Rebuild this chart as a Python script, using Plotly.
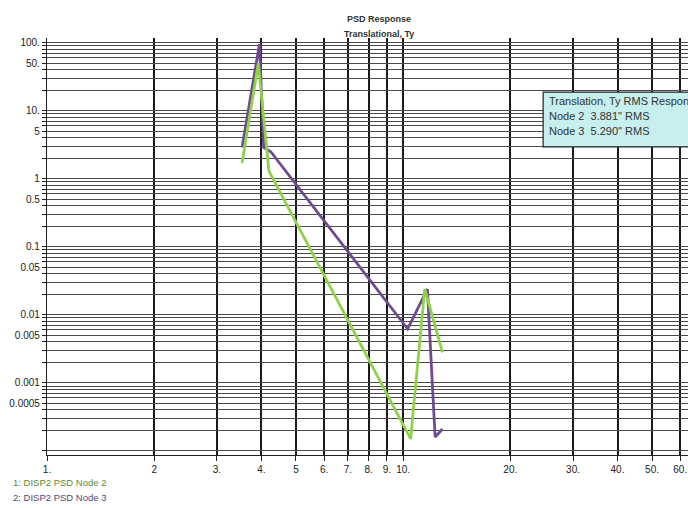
import plotly.graph_objects as go

# ---- data ----
node2_freq = [3.53, 3.92, 4.20, 10.5, 11.5, 12.9]
node2_psd = [1.7, 50, 1.3, 0.00015, 0.024, 0.0028]

node3_freq = [3.53, 3.95, 4.06, 4.25, 10.3, 11.7, 12.3, 12.9]
node3_psd = [2.9, 95, 2.9, 2.5, 0.0062, 0.024, 0.00016, 0.00021]

x_tickvals = [1, 2, 3, 4, 5, 6, 7, 8, 9, 10, 20, 30, 40, 50, 60, 70, 80, 90]
x_ticktext = ["1.", "2", "3.", "4.", "5", "6.", "7.", "8.", "9.", "10.",
              "20.", "30.", "40.", "50.", "60.", "", "", ""]

y_labels = {100: "100.", 50: "50.", 10: "10.", 5: "5", 1: "1", 0.5: "0.5",
            0.1: "0.1", 0.05: "0.05", 0.01: "0.01", 0.005: "0.005",
            0.001: "0.001", 0.0005: "0.0005"}
y_tickvals = []
y_ticktext = []
for dec in [0.0001, 0.001, 0.01, 0.1, 1, 10]:
    for m in range(1, 10):
        v = round(dec * m, 6)
        y_tickvals.append(v)
        y_ticktext.append(y_labels.get(v, ""))
y_tickvals.append(100)
y_ticktext.append("100.")

legend_lines = ["1: DISP2 PSD Node 2", "2: DISP2 PSD Node 3"]
rms_lines = ["Translation, Ty RMS Response", "Node 2  3.881\" RMS", "Node 3  5.290\" RMS"]
title_lines = ["PSD Response", "Translational, Ty"]

FONT = "Liberation Sans Narrow, Arial Narrow, Liberation Sans, Arial, sans-serif"

fig = go.Figure()
fig.add_trace(go.Scatter(x=node3_freq, y=node3_psd, mode="lines",
                         line=dict(color="#6f4a8e", width=2.8), name=legend_lines[1]))
fig.add_trace(go.Scatter(x=node2_freq, y=node2_psd, mode="lines",
                         line=dict(color="#8fd24a", width=2.8), name=legend_lines[0]))

fig.update_layout(
    width=688, height=508,
    margin=dict(l=47, r=0, t=38, b=53, autoexpand=False),
    paper_bgcolor="white", plot_bgcolor="white",
    showlegend=False,
    font=dict(family=FONT, size=9, color="#222"),
)
fig.update_xaxes(
    type="log", range=[0, 1.80], automargin=False,
    tickvals=x_tickvals, ticktext=x_ticktext,
    showgrid=True, gridcolor="#1a1a1a", gridwidth=1.8,
    showline=True, linecolor="#222", linewidth=1.2,
    ticks="outside", ticklen=5, tickcolor="#222",
    tickfont=dict(family=FONT, size=10, color="#222"),
    zeroline=False,
)
fig.update_yaxes(
    type="log", range=[-4.06, 2.07], automargin=False,
    tickvals=y_tickvals, ticktext=y_ticktext,
    showgrid=True, gridcolor="#4a4a4a", gridwidth=1.4,
    showline=True, linecolor="#222", linewidth=1.2,
    ticks="outside", ticklen=4, tickcolor="#222",
    tickfont=dict(family=FONT, size=10, color="#222"),
    zeroline=False,
)

# title
fig.add_annotation(text="<b>" + title_lines[0] + "</b>", xref="paper", yref="paper",
                   x=0.518, y=1.062, showarrow=False, font=dict(size=9, color="#333", family=FONT))
fig.add_annotation(text="<b>" + title_lines[1] + "</b>", xref="paper", yref="paper",
                   x=0.518, y=1.026, showarrow=False, font=dict(size=9, color="#333", family=FONT))

# RMS info box
fig.add_shape(type="rect", xref="paper", yref="paper", x0=0.774, x1=1.2, y0=0.739, y1=0.870,
              fillcolor="#c6efee", line=dict(color="#222", width=1.2), layer="above")
for i, t in enumerate(rms_lines):
    fig.add_annotation(text=t, xref="paper", yref="paper", x=0.780, y=0.849 - i * 0.036,
                       xanchor="left", yanchor="middle", showarrow=False,
                       font=dict(size=11, color="#333", family=FONT))

# bottom legend text
leg_colors = ["#5e8a36", "#5a4470"]
for i, t in enumerate(legend_lines):
    fig.add_annotation(text=t, xref="paper", yref="paper", x=-0.056, y=-0.066 - i * 0.036,
                       xanchor="left", yanchor="middle", showarrow=False,
                       font=dict(size=9.5, color=leg_colors[i], family=FONT))

fig.write_html("out.html", config={"displayModeBar": False},
               post_script="document.body.style.margin='0';document.body.style.overflow='hidden';")
